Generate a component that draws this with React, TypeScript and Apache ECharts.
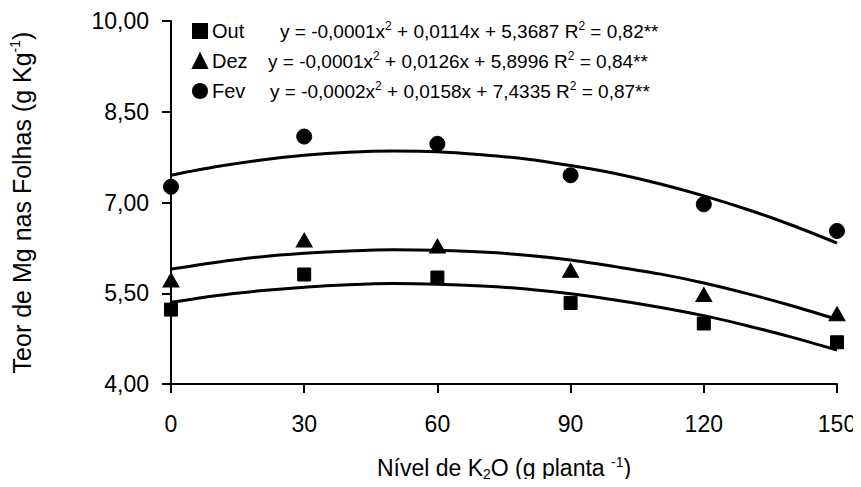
import React, { useEffect, useRef } from "react";
import * as echarts from "echarts";

const X_LEVELS = [0, 30, 60, 90, 120, 150];
const OUT_VALUES = [5.23, 5.81, 5.76, 5.34, 5.0, 4.69];
const DEZ_VALUES = [5.72, 6.38, 6.28, 5.88, 5.48, 5.16];
const FEV_VALUES = [7.26, 8.09, 7.97, 7.45, 6.97, 6.53];

// Fitted trend lines
const TREND_X = [0, 10, 20, 30, 40, 50, 60, 70, 80, 90, 100, 110, 120, 130, 140, 150];
const OUT_TREND = [5.35, 5.46, 5.54, 5.6, 5.64, 5.66, 5.65, 5.62, 5.57, 5.49, 5.39, 5.27, 5.13, 4.96, 4.77, 4.56];
const DEZ_TREND = [5.9, 6.01, 6.1, 6.16, 6.2, 6.22, 6.21, 6.18, 6.13, 6.05, 5.94, 5.82, 5.67, 5.49, 5.29, 5.07];
const FEV_TREND = [7.45, 7.59, 7.7, 7.78, 7.83, 7.85, 7.84, 7.79, 7.72, 7.61, 7.48, 7.31, 7.11, 6.88, 6.62, 6.33];

// Legend / equations
const SERIES_NAMES = ["Out", "Dez", "Fev"];
const EQ_A = ["-0,0001", "-0,0001", "-0,0002"];
const EQ_B = ["0,0114", "0,0126", "0,0158"];
const EQ_C = ["5,3687", "5,8996", "7,4335"];
const EQ_R2 = ["0,82", "0,84", "0,87"];

// Axis ticks
const X_TICKS = [0, 30, 60, 90, 120, 150];
const Y_TICKS = [4, 5.5, 7, 8.5, 10];

const FONT = "'Liberation Sans', Arial, sans-serif";

export default function App() {
  const ref = useRef<HTMLDivElement>(null);

  useEffect(() => {
    if (!ref.current) return;
    const chart = echarts.init(ref.current, undefined, { renderer: "svg" });

    const pairs = (xs: number[], ys: number[]) => xs.map((x, i) => [x, ys[i]]);
    const symbols = ["rect", "triangle", "circle"];
    const symbolSizes: any[] = [13, [16, 14], 15];
    const pointSets = [OUT_VALUES, DEZ_VALUES, FEV_VALUES];
    const trendSets = [OUT_TREND, DEZ_TREND, FEV_TREND];
    const nameWidths: Record<string, number> = { Out: 68, Dez: 56, Fev: 58 };

    const series: any[] = [];
    trendSets.forEach((t, i) => {
      series.push({
        type: "line",
        name: SERIES_NAMES[i] + " (ajuste)",
        data: pairs(TREND_X, t),
        showSymbol: false,
        smooth: 0.3,
        lineStyle: { color: "#000", width: 3 },
        z: 3,
        silent: true,
      });
    });
    pointSets.forEach((p, i) => {
      series.push({
        type: "scatter",
        name: SERIES_NAMES[i],
        data: pairs(X_LEVELS, p),
        symbol: symbols[i],
        symbolSize: symbolSizes[i],
        itemStyle: { color: "#000", borderColor: "#000", borderWidth: 1, opacity: 1 },
        z: 5,
      });
    });

    const eqRich: any = {
      e: { fontSize: 19, fontFamily: FONT, color: "#000", lineHeight: 22 },
      s: { fontSize: 12, fontFamily: FONT, color: "#000", lineHeight: 22, verticalAlign: "top" },
    };
    SERIES_NAMES.forEach((n) => {
      eqRich["n" + n] = { fontSize: 20, fontFamily: FONT, color: "#000", width: nameWidths[n], lineHeight: 22 };
    });

    chart.setOption({
      animation: false,
      backgroundColor: "#fff",
      textStyle: { fontFamily: FONT },
      grid: { left: 169, right: 24, top: 21, bottom: 103 },
      legend: {
        orient: "vertical",
        left: 192,
        top: 20,
        padding: 0,
        itemWidth: 14,
        itemHeight: 14,
        itemGap: 9,
        data: SERIES_NAMES.map((n, i) => ({ name: n, icon: symbols[i] })),
        formatter: (name: string) => {
          const i = SERIES_NAMES.indexOf(name);
          return `{n${name}|${name}}{e|y = ${EQ_A[i]}x}{s|2}{e| + ${EQ_B[i]}x + ${EQ_C[i]} R}{s|2}{e| = ${EQ_R2[i]}**}`;
        },
        textStyle: { rich: eqRich },
        selectedMode: false,
      },
      xAxis: {
        type: "value",
        min: 0,
        max: 150,
        interval: 30,
        name: "{t|Nível de K}{sub|2}{t|O (g planta }{sup|-1}{t|)}",
        nameLocation: "middle",
        nameGap: 71,
        nameTextStyle: {
          rich: {
            t: { fontSize: 23, fontFamily: FONT, color: "#000", lineHeight: 26 },
            sub: { fontSize: 14, fontFamily: FONT, color: "#000", lineHeight: 26, verticalAlign: "bottom" },
            sup: { fontSize: 14, fontFamily: FONT, color: "#000", lineHeight: 26, verticalAlign: "top" },
          },
        },
        axisLine: { show: true, lineStyle: { color: "#000", width: 2 } },
        axisTick: { show: true, length: 9, lineStyle: { color: "#000", width: 2 }, customValues: X_TICKS },
        axisLabel: { fontSize: 23, color: "#000", margin: 28, fontFamily: FONT, customValues: X_TICKS },
        splitLine: { show: false },
      },
      yAxis: {
        type: "value",
        min: 4,
        max: 10,
        name: "{t|Teor de Mg nas Folhas (g Kg}{sup|-1}{t|)}",
        nameLocation: "middle",
        nameGap: 136,
        nameTextStyle: {
          rich: {
            t: { fontSize: 25, fontFamily: FONT, color: "#000", lineHeight: 27 },
            sup: { fontSize: 14, fontFamily: FONT, color: "#000", lineHeight: 27, verticalAlign: "top" },
          },
        },
        axisLine: { show: true, lineStyle: { color: "#000", width: 2 } },
        axisTick: { show: true, length: 9, lineStyle: { color: "#000", width: 2 }, customValues: Y_TICKS },
        axisLabel: {
          fontSize: 23,
          color: "#000",
          margin: 22,
          fontFamily: FONT,
          customValues: Y_TICKS,
          formatter: (v: number) => v.toFixed(2).replace(".", ","),
        },
        splitLine: { show: false },
      },
      series,
    });

    return () => chart.dispose();
  }, []);

  return <div ref={ref} style={{ width: 861, height: 487, margin: -8 }} />;
}
